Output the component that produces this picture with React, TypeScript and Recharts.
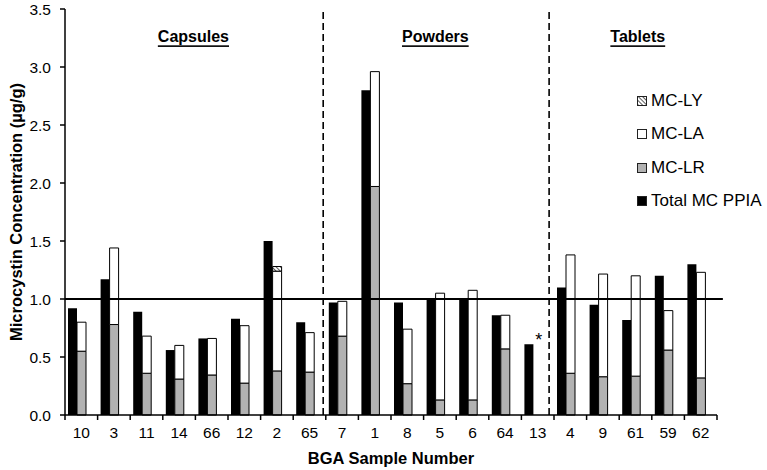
import React from "react";
import { BarChart, Bar, XAxis, YAxis, ReferenceLine, ReferenceDot, Legend } from "recharts";

const categories = ["10", "3", "11", "14", "66", "12", "2", "65", "7", "1", "8", "5", "6", "64", "13", "4", "9", "61", "59", "62"];
const totalPPIA = [0.92, 1.17, 0.89, 0.56, 0.66, 0.83, 1.5, 0.8, 0.97, 2.8, 0.97, 1.0, 1.0, 0.86, 0.61, 1.1, 0.95, 0.82, 1.2, 1.3];
const mcLR = [0.55, 0.78, 0.36, 0.31, 0.345, 0.275, 0.38, 0.37, 0.68, 1.97, 0.27, 0.13, 0.13, 0.57, null, 0.36, 0.33, 0.335, 0.56, 0.32];
const mcLA = [0.25, 0.66, 0.32, 0.29, 0.315, 0.495, 0.86, 0.34, 0.3, 0.99, 0.47, 0.92, 0.945, 0.29, null, 1.02, 0.885, 0.865, 0.34, 0.91];
const mcLY = [null, null, null, null, null, null, 0.04, null, null, null, null, null, null, null, null, null, null, null, null, null];
const yTicks = [0, 0.5, 1.0, 1.5, 2.0, 2.5, 3.0, 3.5];

const groupNames = ["Capsules", "Powders", "Tablets"];
const groupCenters = [3.94, 11.36, 17.57];
const groupLabelValue = 3.26;
const separatorPositions = [7.92, 14.85];
const limitValue = 1.0;
const limitLineEnd = 20.18;
const noteText = "*";
const notePosition = 14.53;
const noteValue = 0.67;

const legendLabels = ["MC-LY", "MC-LA", "MC-LR", "Total MC PPIA"];
const legendFills = ["url(#hatchLegend)", "#ffffff", "#b2b2b2", "#000000"];

const data = categories.map((c, i) => ({
  sample: c,
  slot: i + 0.5,
  total: totalPPIA[i],
  lr: mcLR[i],
  la: mcLA[i],
  ly: mcLY[i],
}));

const FONT = "'Liberation Sans', Arial, sans-serif";

const CatTick = (props: any) => {
  const { x, y, payload, index } = props;
  const half = payload && typeof payload.offset === "number" ? payload.offset : 16.3;
  const axisY = y - 12;
  const last = index === categories.length - 1;
  return (
    <g>
      <line x1={x - half} x2={x - half} y1={axisY} y2={axisY + 5} stroke="#000" strokeWidth={1.5} />
      {last && <line x1={x + half} x2={x + half} y1={axisY} y2={axisY + 5} stroke="#000" strokeWidth={1.5} />}
      <text x={x} y={y} dy="0.71em" textAnchor="middle" fontSize={15.5} fill="#000" fontFamily={FONT}>
        {payload.value}
      </text>
    </g>
  );
};

const YTitle = (p: any) => {
  const vb = p.viewBox || { x: 0, y: 0, width: 65, height: 406 };
  const cx = vb.x + 16;
  const cy = vb.y + vb.height / 2;
  return (
    <text x={cx} y={cy} transform={`rotate(-90, ${cx}, ${cy})`} textAnchor="middle" dominantBaseline="central" fontSize={16.5} fontWeight="bold" fill="#000" fontFamily={FONT}>
      Microcystin Concentration (µg/g)
    </text>
  );
};

const XTitle = (p: any) => {
  const vb = p.viewBox || { x: 65, y: 415, width: 652, height: 55 };
  const cx = vb.x + vb.width / 2;
  const cy = vb.y + 43;
  return (
    <text x={cx} y={cy} textAnchor="middle" dominantBaseline="central" fontSize={16.5} fontWeight="bold" fill="#000" fontFamily={FONT}>
      BGA Sample Number
    </text>
  );
};

const LegendContent = () => (
  <div style={{ fontFamily: FONT, fontSize: 17, color: "#000" }}>
    <svg width={0} height={0} style={{ position: "absolute" }}>
      <defs>
        <pattern id="hatchLegend" width={3} height={3} patternUnits="userSpaceOnUse" patternTransform="rotate(-45)">
          <rect width={3} height={3} fill="#fff" />
          <line x1={0} y1={0} x2={0} y2={3} stroke="#333" strokeWidth={1.6} />
        </pattern>
      </defs>
    </svg>
    {legendLabels.map((l, i) => (
      <div key={l} style={{ height: 33.5, display: "flex", alignItems: "center", whiteSpace: "nowrap" }}>
        <svg width={10} height={10} style={{ marginRight: 4 }}>
          <rect x={0.5} y={0.5} width={9} height={9} fill={legendFills[i]} stroke="#222" strokeWidth={1} />
        </svg>
        <span>{l}</span>
      </div>
    ))}
  </div>
);

export default function App() {
  return (
    <div style={{ position: "absolute", left: 0, top: 0, width: 767, height: 470, fontFamily: FONT, background: "#fff" }}>
      <BarChart width={767} height={470} data={data} margin={{ top: 9, right: 50, left: 0, bottom: 0 }} barGap={0} barCategoryGap={3}>
        <defs>
          <pattern id="hatch" width={3} height={3} patternUnits="userSpaceOnUse" patternTransform="rotate(-45)">
            <rect width={3} height={3} fill="#fff" />
            <line x1={0} y1={0} x2={0} y2={3} stroke="#333" strokeWidth={1.6} />
          </pattern>
        </defs>
        <XAxis
          dataKey="sample"
          height={55}
          interval={0}
          axisLine={{ stroke: "#000", strokeWidth: 1.5 }}
          tickLine={false}
          tickSize={5}
          tickMargin={7}
          tick={<CatTick />}
          label={{ content: <XTitle /> }}
        />
        <XAxis xAxisId="num" dataKey="slot" type="number" domain={[0, 20]} hide allowDataOverflow />
        <YAxis
          width={65}
          domain={[0, 3.5]}
          ticks={yTicks}
          interval={0}
          tickFormatter={(v: number) => v.toFixed(1)}
          axisLine={{ stroke: "#000", strokeWidth: 1.5 }}
          tickLine={{ stroke: "#000", strokeWidth: 1.5 }}
          tickSize={5}
          tickMargin={9}
          tick={{ fontSize: 15.5, fill: "#000", fontFamily: FONT }}
          label={{ content: <YTitle /> }}
        />
        <Bar dataKey="total" stackId="a" fill="#000" isAnimationActive={false} />
        <Bar dataKey="lr" stackId="b" fill="#b2b2b2" stroke="#000" strokeWidth={1} isAnimationActive={false} />
        <Bar dataKey="la" stackId="b" fill="#ffffff" stroke="#000" strokeWidth={1} isAnimationActive={false} />
        <Bar dataKey="ly" stackId="b" fill="url(#hatch)" stroke="#000" strokeWidth={1} isAnimationActive={false} />
        <Bar dataKey="pad" stackId="c" fill="none" isAnimationActive={false} />
        <ReferenceLine
          xAxisId="num"
          segment={[{ x: 0, y: limitValue }, { x: limitLineEnd, y: limitValue }]}
          ifOverflow="visible"
          stroke="#000"
          strokeWidth={1.8}
        />
        {separatorPositions.map((s) => (
          <ReferenceLine key={s} xAxisId="num" x={s} stroke="#000" strokeWidth={1.6} strokeDasharray="7 4" />
        ))}
        {groupNames.map((g, i) => (
          <ReferenceDot
            key={g}
            xAxisId="num"
            x={groupCenters[i]}
            y={groupLabelValue}
            r={0}
            shape={(p: any) => (
              <text x={p.cx} y={p.cy} textAnchor="middle" dominantBaseline="central" fontSize={16} fontWeight="bold" fill="#000" fontFamily={FONT} style={{ textDecoration: "underline" }}>
                {g}
              </text>
            )}
          />
        ))}
        <ReferenceDot
          xAxisId="num"
          x={notePosition}
          y={noteValue}
          r={0}
          shape={(p: any) => (
            <text x={p.cx} y={p.cy + 9} textAnchor="middle" fontSize={18} fill="#000" fontFamily={FONT}>
              {noteText}
            </text>
          )}
        />
        <Legend
          layout="vertical"
          align="center"
          verticalAlign="middle"
          content={<LegendContent />}
          wrapperStyle={{ left: 637, top: 84, width: 130, height: 134 }}
        />
      </BarChart>
    </div>
  );
}
